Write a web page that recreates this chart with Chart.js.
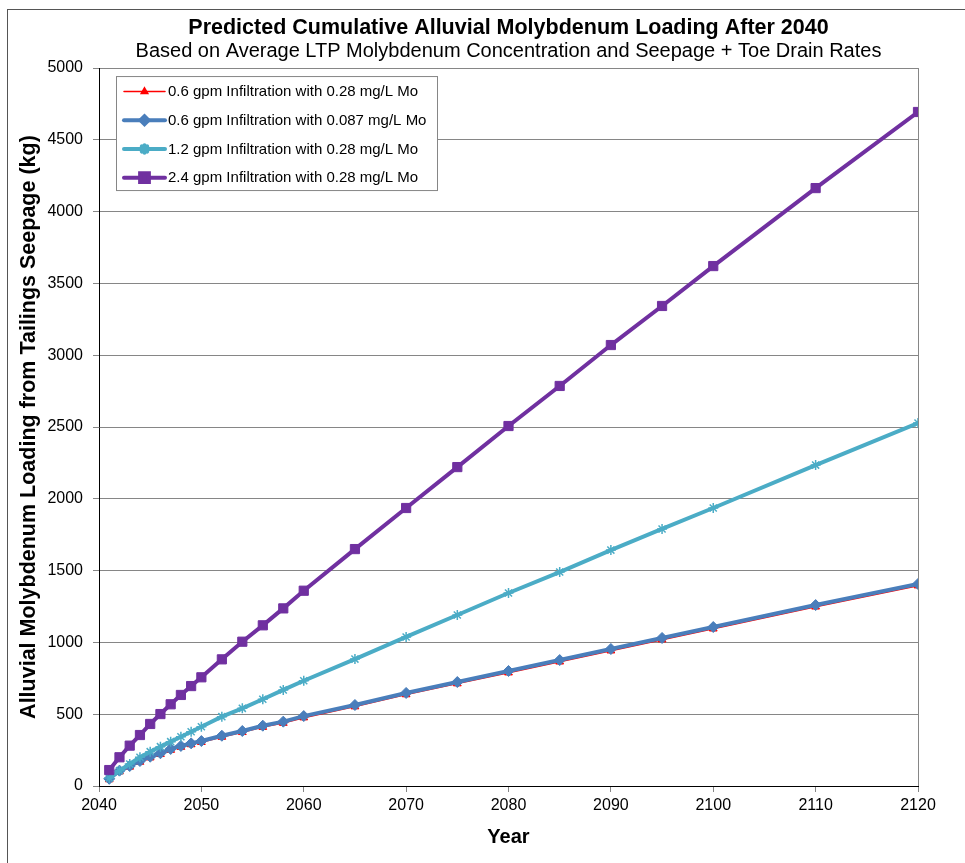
<!DOCTYPE html>
<html>
<head>
<meta charset="utf-8">
<script src="https://cdn.jsdelivr.net/npm/chart.js@4.4.1/dist/chart.umd.min.js"></script>
<style>
  html, body { margin: 0; padding: 0; background: #fff; }
  #wrap { position: relative; width: 965px; height: 863px; }
</style>
</head>
<body>
<div id="wrap"><canvas id="chart" width="965" height="863"></canvas></div>
<script>
// Predicted cumulative alluvial Mo loading (kg)
const years = [2041, 2042, 2043, 2044, 2045, 2046, 2047, 2048, 2049, 2050,
    2052, 2054, 2056, 2058, 2060, 2065, 2070, 2075, 2080, 2085, 2090, 2095, 2100, 2110, 2120];

const mo06_028 = [45, 100, 133, 167, 197, 221, 250, 271, 289, 305,
    341, 374, 410, 438, 476, 553, 637, 713, 789, 865, 942, 1019, 1095, 1248, 1395];
const mo06_0087 = [50, 107, 139, 174, 204, 228, 258, 279, 297, 313,
    350, 383, 420, 448, 487, 564, 648, 724, 801, 877, 954, 1031, 1107, 1260, 1407];
const mo12_028 = [55, 107, 153, 200, 239, 274, 309, 343, 378, 413,
    483, 541, 604, 669, 733, 884, 1038, 1191, 1344, 1490, 1643, 1790, 1936, 2235, 2528];
const mo24_028 = [111, 200, 281, 355, 432, 501, 569, 634, 696, 757,
    882, 1005, 1119, 1237, 1360, 1650, 1936, 2221, 2507, 2786, 3071, 3343, 3621, 4164, 4694];

const seriesLabels = [
    '0.6 gpm Infiltration with 0.28 mg/L Mo',
    '0.6 gpm Infiltration with 0.087 mg/L Mo',
    '1.2 gpm Infiltration with 0.28 mg/L Mo',
    '2.4 gpm Infiltration with 0.28 mg/L Mo'
];

const FONT = "'Liberation Sans', Arial, sans-serif";
const COLORS = {
    red: '#ff0000',
    blue: '#4a7ebb',
    cyan: '#4bacc6',
    purple: '#7030a0',
    grid: '#868686'
};

function toPoints(vals) {
    return years.map((y, i) => ({ x: y, y: vals[i] }));
}

// thin frame round the whole chart (only left/top visible in the reference)
const framePlugin = {
    id: 'frame',
    beforeDraw(chart) {
        const ctx = chart.ctx;
        ctx.save();
        ctx.fillStyle = '#fff';
        ctx.fillRect(0, 0, chart.width, chart.height);
        ctx.strokeStyle = '#555';
        ctx.lineWidth = 1;
        ctx.strokeRect(7.5, 9.5, 1200, 1200);
        ctx.restore();
    }
};

// boxed legend inside the plot, top-left; markers are smaller than on the lines
const legendMarkerRadius = { triangle: 3.8, rectRot: 4, star: 3.8, rect: 6.2 };

const insideLegend = {
    id: 'insideLegend',
    afterDatasetsDraw(chart) {
        const ctx = chart.ctx;
        const area = chart.chartArea;
        const left = area.left + 17, top = area.top + 8;
        const w = 321, h = 114;
        ctx.save();
        ctx.fillStyle = '#fff';
        ctx.fillRect(left, top, w, h);
        ctx.strokeStyle = COLORS.grid;
        ctx.lineWidth = 1;
        ctx.strokeRect(left + 0.5, top + 0.5, w, h);

        ctx.font = '15px ' + FONT;
        ctx.textBaseline = 'middle';
        ctx.textAlign = 'left';
        const dsByLabel = seriesLabels.map(l => chart.data.datasets.find(d => d.label === l));
        dsByLabel.forEach((ds, i) => {
            const y = top + 15.5 + i * 28.7;
            const x1 = left + 8, x2 = left + 49;
            ctx.strokeStyle = ds.borderColor;
            ctx.lineWidth = ds.borderWidth;
            ctx.lineCap = 'round';
            ctx.beginPath();
            ctx.moveTo(x1, y);
            ctx.lineTo(x2, y);
            ctx.stroke();
            ctx.fillStyle = ds.pointBackgroundColor;
            ctx.strokeStyle = ds.pointBorderColor;
            Chart.helpers.drawPoint(ctx, {
                pointStyle: ds.pointStyle,
                radius: legendMarkerRadius[ds.pointStyle],
                borderWidth: ds.pointBorderWidth,
                rotation: 0
            }, (x1 + x2) / 2, y);
            ctx.fillStyle = '#000';
            ctx.fillText(ds.label, left + 52, y + 0.5);
        });
        ctx.restore();
    }
};

new Chart(document.getElementById('chart'), {
    type: 'line',
    data: {
        datasets: [
            {
                label: seriesLabels[0],
                data: toPoints(mo06_028),
                borderColor: COLORS.red,
                backgroundColor: COLORS.red,
                borderWidth: 1.5,
                pointStyle: 'triangle',
                pointRadius: 4.5,
                pointBackgroundColor: COLORS.red,
                pointBorderColor: COLORS.red,
                pointBorderWidth: 1,
                order: 4
            },
            {
                label: seriesLabels[1],
                data: toPoints(mo06_0087),
                borderColor: COLORS.blue,
                backgroundColor: COLORS.blue,
                borderWidth: 4,
                pointStyle: 'rectRot',
                pointRadius: 5.5,
                pointBackgroundColor: COLORS.blue,
                pointBorderColor: COLORS.blue,
                pointBorderWidth: 1,
                order: 3
            },
            {
                label: seriesLabels[2],
                data: toPoints(mo12_028),
                borderColor: COLORS.cyan,
                backgroundColor: COLORS.cyan,
                borderWidth: 4,
                pointStyle: 'star',
                pointRadius: 5,
                pointBackgroundColor: COLORS.cyan,
                pointBorderColor: COLORS.cyan,
                pointBorderWidth: 1.5,
                order: 2
            },
            {
                label: seriesLabels[3],
                data: toPoints(mo24_028),
                borderColor: COLORS.purple,
                backgroundColor: COLORS.purple,
                borderWidth: 4,
                pointStyle: 'rect',
                pointRadius: 6.5,
                pointBackgroundColor: COLORS.purple,
                pointBorderColor: COLORS.purple,
                pointBorderWidth: 1,
                order: 1
            }
        ]
    },
    options: {
        responsive: false,
        animation: false,
        layout: { padding: { left: 0, right: 47, top: 0, bottom: 0 } },
        plugins: {
            legend: { display: false },
            tooltip: { enabled: false },
            title: {
                display: true,
                fullSize: false,
                text: 'Predicted Cumulative Alluvial Molybdenum Loading After 2040',
                color: '#000',
                font: { family: FONT, size: 21.5, weight: 'bold', lineHeight: 1.1 },
                padding: { top: 16.5, bottom: 0.2 }
            },
            subtitle: {
                display: true,
                fullSize: false,
                text: 'Based on Average LTP Molybdenum Concentration and Seepage + Toe Drain Rates',
                color: '#000',
                font: { family: FONT, size: 20, lineHeight: 1.1 },
                padding: { top: 0, bottom: 5.7 }
            }
        },
        scales: {
            x: {
                type: 'linear',
                min: 2040,
                max: 2120,
                afterFit: s => { s.height = 77; },
                ticks: {
                    stepSize: 10,
                    color: '#000',
                    padding: 4,
                    maxRotation: 0,
                    font: { family: FONT, size: 16 },
                    callback: v => String(v)
                },
                grid: {
                    drawOnChartArea: true,
                    color: c => (c.tick && c.tick.value === 2120) ? COLORS.grid : 'rgba(0,0,0,0)',
                    tickColor: COLORS.grid,
                    tickLength: 6
                },
                border: { color: '#000', width: 1 },
                title: {
                    display: true,
                    text: 'Year',
                    color: '#000',
                    font: { family: FONT, size: 20, weight: 'bold', lineHeight: 1.2 },
                    padding: { top: 0, bottom: 14 }
                }
            },
            y: {
                type: 'linear',
                min: 0,
                max: 5000,
                afterFit: s => { s.width = 99; },
                ticks: {
                    stepSize: 500,
                    color: '#000',
                    padding: 10,
                    font: { family: FONT, size: 16 },
                    callback: v => String(v)
                },
                grid: {
                    color: COLORS.grid,
                    tickColor: COLORS.grid,
                    tickLength: 6
                },
                border: { color: '#000', width: 1 },
                title: {
                    display: true,
                    text: 'Alluvial Molybdenum Loading from Tailings Seepage (kg)',
                    color: '#000',
                    font: { family: FONT, size: 21.5, weight: 'bold', lineHeight: 1.2 },
                    padding: { top: 16, bottom: 0 }
                }
            }
        }
    },
    plugins: [framePlugin, insideLegend]
});
</script>
</body>
</html>
